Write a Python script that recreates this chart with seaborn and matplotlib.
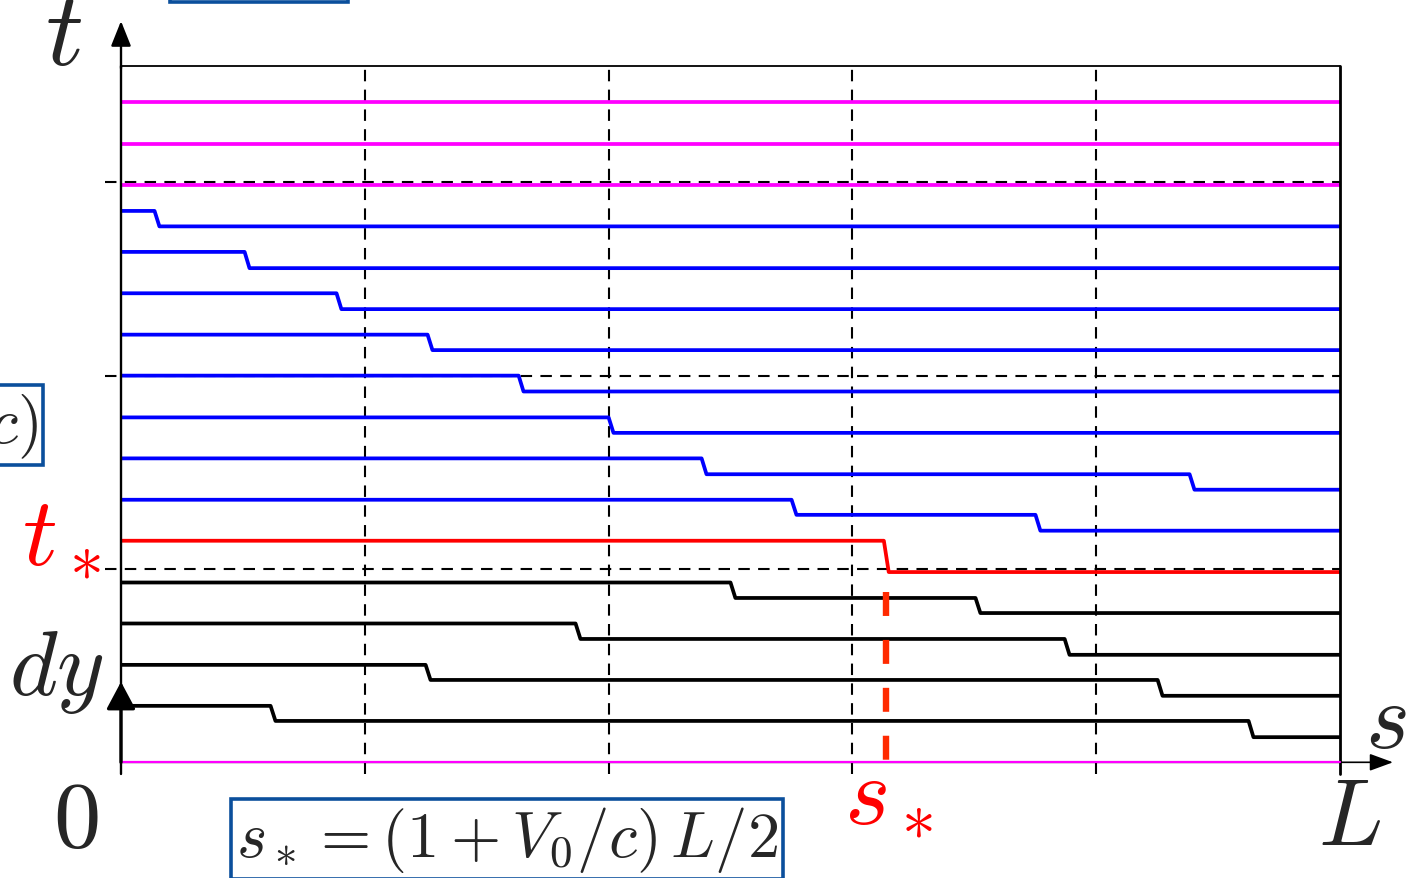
import numpy as np
import pandas as pd
import matplotlib
matplotlib.use("Agg")
import matplotlib.pyplot as plt
import seaborn as sns
from matplotlib.patches import FancyBboxPatch

# ---------------- data (s in units of L, t in units of the tick step) ----------------
black_levels = [[1.46, 1.07, 0.65], [2.52, 2.13, 1.72], [3.59, 3.19, 2.78], [4.65, 4.25, 3.86]]
black_drops = [[0.1247, 0.9270], [0.2519, 0.8524], [0.3749, 0.7761], [0.5020, 0.7030]]
red_levels = [5.73, 4.92]
red_drops = [0.6278]
blue_levels = [[6.79, 6.40, 5.99], [7.86, 7.45, 7.05], [8.92, 8.52], [10.00, 9.59],
               [11.06, 10.66], [12.13, 11.72], [13.20, 12.78], [14.26, 13.86]]
blue_drops = [[0.5521, 0.7522], [0.4783, 0.8786], [0.4020], [0.3282],
              [0.2535], [0.1788], [0.1034], [0.0295]]
magenta_levels = [14.93, 15.99, 17.07]
magenta_base = 0.0
s_grid = [0.2, 0.4, 0.6, 0.8]
t_grid = [5, 10, 15]
s_minor = [0.1, 0.3, 0.5, 0.7, 0.9]
t_ticks = list(range(1, 19))
s_star = red_drops[0]
s_star_top = 4.40
dy_arrow = 2.08
t_max = 18

SLANT = 0.004


def step_rows(levels, drops, group, uid):
    xs, ys = [0.0], [levels[0]]
    for i, d in enumerate(drops):
        xs += [d - SLANT / 2, d + SLANT / 2]
        ys += [levels[i], levels[i + 1]]
    xs.append(1.0)
    ys.append(levels[-1])
    return [dict(s=x, t=y, group=group, line=uid) for x, y in zip(xs, ys)]


rows = []
uid = 0
for lv, dr in zip(black_levels, black_drops):
    rows += step_rows(lv, dr, "black", uid); uid += 1
rows += step_rows(red_levels, red_drops, "red", uid); uid += 1
for lv, dr in zip(blue_levels, blue_drops):
    rows += step_rows(lv, dr, "blue", uid); uid += 1
for lv in magenta_levels:
    rows += step_rows([lv], [], "magenta", uid); uid += 1
df = pd.DataFrame(rows)

palette = {"black": "#000000", "red": "#FF0000", "blue": "#0000FF", "magenta": "#FF00FF"}

# ---------------- figure ----------------
sns.set_style("white")
plt.rcParams["mathtext.fontset"] = "cm"
plt.rcParams["font.family"] = ["DejaVu Sans"]

W, H = 1412, 879
fig = plt.figure(figsize=(W / 100, H / 100), dpi=100)
ax = fig.add_axes([121 / W, 1 - 763.3 / H, 1219 / W, 696 / H])
ax.set_xlim(0, 1)
ax.set_ylim(0, t_max)
for sp in ax.spines.values():
    sp.set_visible(False)

px_x = 1 / 1219.0   # one pixel in s units
px_t = 1 / 38.67    # one pixel in t units

# ticks
ax.set_xticks([0])
ax.set_xticks(s_minor, minor=True)
ax.set_yticks([0])
ax.set_yticks(t_ticks, minor=True)
ax.tick_params(axis="both", which="major", direction="out", length=11.5, width=1.1,
               labelbottom=False, labelleft=False, color="k")
ax.tick_params(axis="x", which="minor", direction="out", length=5, width=1.1, color="k")
ax.tick_params(axis="y", which="minor", direction="out", length=5.8, width=1.1, color="k")
ax.tick_params(which="both", labelbottom=False, labelleft=False)

dash = (0, (5.5, 4.0))
low = -12 * px_t
for sv in s_grid:
    ax.plot([sv, sv], [low, t_max], ls=dash, lw=1.5, color="k", clip_on=False, zorder=1)
for tv in t_grid:
    ax.plot([-16 * px_x, 1], [tv, tv], ls=dash, lw=1.5, color="k", clip_on=False, zorder=1)

# frame
ax.plot([0, 0], [low, t_max], color="k", lw=1.7, clip_on=False, zorder=4)
ax.plot([1, 1], [low, t_max], color="k", lw=2.0, clip_on=False, zorder=4)
ax.plot([0, 1], [t_max, t_max], color="k", lw=1.3, clip_on=False, zorder=4)

# step lines
sns.lineplot(data=df, x="s", y="t", hue="group", units="line", estimator=None, sort=False,
             palette=palette, linewidth=2.7, legend=False, ax=ax, zorder=3)
ax.set_xlabel("")
ax.set_ylabel("")
ax.plot([0, 1], [magenta_base, magenta_base], color="#FF00FF", lw=1.6, zorder=5, clip_on=False)

# s_* dashed marker (drawn from top down)
ax.plot([s_star, s_star], [s_star_top, magenta_base], color="#FF2A00", lw=4.6,
        ls=(0, (3.75, 3.75)), zorder=6, solid_capstyle="butt", dash_capstyle="butt")

# axis arrows
ax.annotate("", xy=(0, (763.3 - 22) * px_t), xytext=(0, t_max - 0.05), annotation_clip=False,
            arrowprops=dict(arrowstyle="-|>,head_length=0.55,head_width=0.22", lw=1.7,
                            color="k", mutation_scale=28, shrinkA=0, shrinkB=0))
ax.annotate("", xy=((1393 - 121) * px_x, 0), xytext=(0, 0), annotation_clip=False,
            arrowprops=dict(arrowstyle="-|>,head_length=0.6,head_width=0.22", lw=1.2,
                            color="k", mutation_scale=24, shrinkA=0, shrinkB=0), zorder=2)
ax.annotate("", xy=(0, dy_arrow), xytext=(0, 0), annotation_clip=False,
            arrowprops=dict(arrowstyle="-|>,head_length=0.6,head_width=0.32", lw=2.4,
                            color="k", mutation_scale=28, shrinkA=0, shrinkB=0), zorder=7)

# labels
def P(px, py):
    return ((px - 121) * px_x, (763.3 - py) * px_t)

big = 68
kw = dict(clip_on=False, ha="center", va="baseline")
ax.text(*P(63, 65), r"$t$", fontsize=76, **kw)
ax.text(*P(1386, 748), r"$s$", fontsize=big, **kw)
ax.text(*P(76, 847), r"$0$", fontsize=big, **kw)
ax.text(*P(1349, 845), r"$L$", fontsize=big, **kw)
ax.text(*P(56, 695), r"$dy$", fontsize=66, **kw)
ax.text(*P(61, 563), r"$t_*$", fontsize=70, color="#FF0000", **kw)
ax.text(*P(888, 822), r"$s_*$", fontsize=70, color="#FF0000", **kw)

box = dict(boxstyle="square,pad=0.08", fc="white", ec="#0B4F9C", lw=2.6)
ax.text(*P(507, 857), r"$s_* = (1 + V_0/c)\,L/2$", fontsize=46.5, bbox=box, **kw)
ax.text(*P(38, 443), r"$t_* = L/(2c)$", fontsize=46.5, bbox=box, clip_on=False,
        ha="right", va="baseline")

fig.add_artist(FancyBboxPatch((170 / W, 1 - 3 / H), 178 / W, 0.1, boxstyle="square,pad=0",
                              transform=fig.transFigure, fc="white", ec="#0B4F9C", lw=2.6))

fig.savefig("out.png", dpi=100)
